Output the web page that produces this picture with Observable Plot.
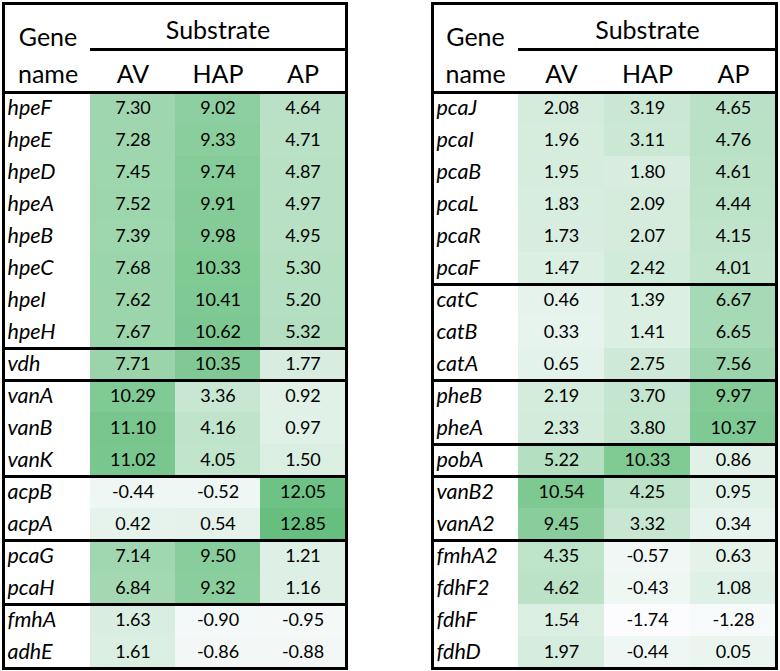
<!DOCTYPE html>
<html><head><meta charset="utf-8">
<script src="https://cdn.jsdelivr.net/npm/d3@7"></script>
<script src="https://cdn.jsdelivr.net/npm/@observablehq/plot@0.6"></script>
<style>
body{margin:0;background:#fff;}
#wrap{display:flex;width:780px;height:671px;}
#wrap svg{display:block;flex:none}
</style></head><body><div id="wrap"></div>
<script>
const substrates = ["AV", "HAP", "AP"];

// Left table
const leftGenes = ["hpeF","hpeE","hpeD","hpeA","hpeB","hpeC","hpeI","hpeH","vdh","vanA","vanB","vanK","acpB","acpA","pcaG","pcaH","fmhA","adhE"];
const leftGroupSizes = [8, 1, 3, 2, 2, 2];
const leftAV  = [7.30, 7.28, 7.45, 7.52, 7.39, 7.68, 7.62, 7.67, 7.71, 10.29, 11.10, 11.02, -0.44, 0.42, 7.14, 6.84, 1.63, 1.61];
const leftHAP = [9.02, 9.33, 9.74, 9.91, 9.98, 10.33, 10.41, 10.62, 10.35, 3.36, 4.16, 4.05, -0.52, 0.54, 9.50, 9.32, -0.90, -0.86];
const leftAP  = [4.64, 4.71, 4.87, 4.97, 4.95, 5.30, 5.20, 5.32, 1.77, 0.92, 0.97, 1.50, 12.05, 12.85, 1.21, 1.16, -0.95, -0.88];

// Right table
const rightGenes = ["pcaJ","pcaI","pcaB","pcaL","pcaR","pcaF","catC","catB","catA","pheB","pheA","pobA","vanB2","vanA2","fmhA2","fdhF2","fdhF","fdhD"];
const rightGroupSizes = [6, 3, 2, 1, 2, 4];
const rightAV  = [2.08, 1.96, 1.95, 1.83, 1.73, 1.47, 0.46, 0.33, 0.65, 2.19, 2.33, 5.22, 10.54, 9.45, 4.35, 4.62, 1.54, 1.97];
const rightHAP = [3.19, 3.11, 1.80, 2.09, 2.07, 2.42, 1.39, 1.41, 2.75, 3.70, 3.80, 10.33, 4.25, 3.32, -0.57, -0.43, -1.74, -0.44];
const rightAP  = [4.65, 4.76, 4.61, 4.44, 4.15, 4.01, 6.67, 6.65, 7.56, 9.97, 10.37, 0.86, 0.95, 0.34, 0.63, 1.08, -1.28, 0.05];

const allValues = [...leftAV, ...leftHAP, ...leftAP, ...rightAV, ...rightHAP, ...rightAP];
const vmin = d3.min(allValues), vmax = d3.max(allValues);

function table(genes, values, sizes, ml, mr) {
  const cells = [];
  genes.forEach((g, i) => substrates.forEach((s, j) => cells.push({gene: g, row: i, sub: s, value: values[j][i]})));
  const bounds = d3.cumsum([0, ...sizes.slice(0, -1)]);
  const font = "Lato, 'Open Sans', sans-serif";
  return Plot.plot({
    width: 390, height: 671,
    marginTop: 92, marginBottom: 3, marginLeft: ml, marginRight: mr,
    x: {type: "band", domain: ["name", ...substrates], padding: 0, axis: null},
    y: {domain: [0, genes.length], reverse: true, axis: null},
    color: {type: "linear", domain: [vmin, vmax], range: ["#FCFCFF", "#66BF7E"]},
    style: {fontFamily: font, background: "white", color: "black"},
    marks: [
      Plot.barY(cells, {x: "sub", y1: "row", y2: d => d.row + 1, fill: "value"}),
      Plot.text(cells, {x: "sub", y: d => d.row + 0.5, text: d => d.value.toFixed(2), fontSize: 18, fill: "black"}),
      Plot.text(genes, {frameAnchor: "left", y: (d, i) => i + 0.5, text: d => d, dx: 4, textAnchor: "start", fontStyle: "italic", fontSize: 21.5, fill: "black"}),
      Plot.ruleY(bounds, {y: d => d, strokeWidth: 3, stroke: "black"}),
      Plot.tickY(substrates, {x: d => d, y: 0, dy: -43, strokeWidth: 3, stroke: "black"}),
      Plot.text(["name", ...substrates], {x: d => d, y: 0, dy: -18, text: d => d, fontSize: 25, fill: "black"}),
      Plot.text(["Gene"], {x: ["name"], y: [0], dy: -55, text: d => d, fontSize: 25, fill: "black"}),
      Plot.text(["Substrate"], {x: ["HAP"], y: [0], dy: -62, text: d => d, fontSize: 25, fill: "black"}),
      Plot.frame({insetTop: -89, strokeWidth: 3, stroke: "black"})
    ]
  });
}

const wrap = document.getElementById("wrap");
wrap.appendChild(table(leftGenes, [leftAV, leftHAP, leftAP], leftGroupSizes, 3, 44));
wrap.appendChild(table(rightGenes, [rightAV, rightHAP, rightAP], rightGroupSizes, 42, 4));
</script>
</body></html>
